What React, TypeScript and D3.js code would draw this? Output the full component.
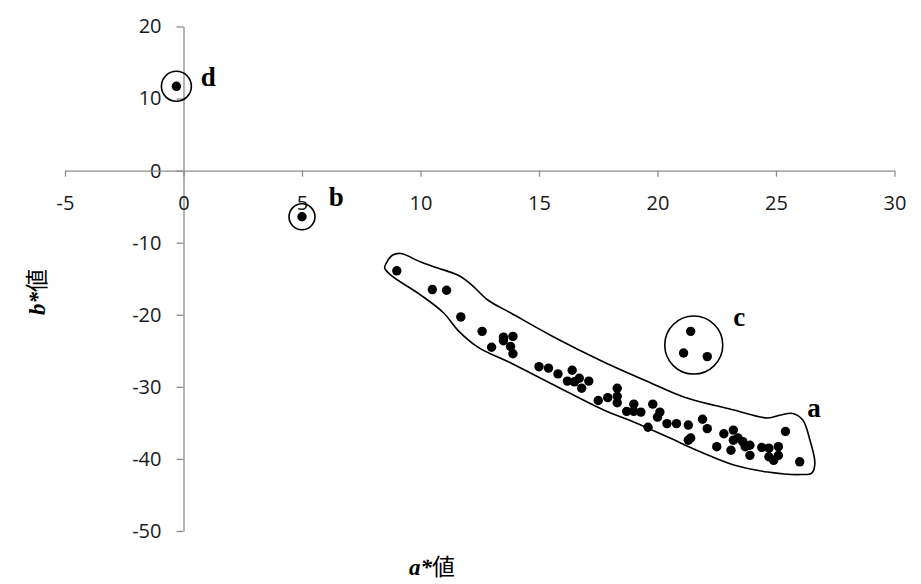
import React, { useEffect, useRef } from 'react';
import * as d3 from 'd3';

// group a: main band of samples
const groupA: [number, number][] = [
  [9.0, -13.9], [10.5, -16.5], [11.1, -16.6], [11.7, -20.3], [12.6, -22.3],
  [13.0, -24.5], [13.5, -23.1], [13.5, -23.6], [13.9, -23.0], [13.8, -24.4],
  [13.9, -25.4], [15.0, -27.2], [15.4, -27.4], [15.8, -28.2], [16.4, -27.7],
  [16.2, -29.2], [16.5, -29.3], [16.7, -28.8], [16.8, -30.2], [17.1, -29.2],
  [17.5, -31.9], [17.9, -31.5], [18.3, -30.2], [18.3, -31.3], [18.3, -32.2],
  [18.7, -33.4], [19.0, -32.4], [19.0, -33.4], [19.3, -33.5], [19.8, -32.4],
  [20.1, -33.5], [20.0, -34.2], [19.6, -35.6], [20.4, -35.1], [20.8, -35.1],
  [21.3, -35.3], [21.3, -37.4], [21.4, -37.1], [21.9, -34.5], [22.1, -35.8],
  [22.8, -36.5], [23.2, -36.0], [22.5, -38.3], [23.1, -38.8], [23.2, -37.4],
  [23.4, -37.1], [23.6, -37.6], [23.7, -38.3], [23.9, -38.1], [23.9, -39.5],
  [24.4, -38.4], [24.7, -38.5], [25.1, -38.3], [24.7, -39.7], [24.9, -40.2],
  [25.1, -39.5], [25.4, -36.2], [26.0, -40.4],
];
const groupB: [number, number][] = [[5.0, -6.4]];
const groupC: [number, number][] = [[21.4, -22.3], [21.1, -25.3], [22.1, -25.8]];
const groupD: [number, number][] = [[-0.3, 11.7]];

const xTicks = [-5, 0, 5, 10, 15, 20, 25, 30];
const yTicks = [20, 10, 0, -10, -20, -30, -40, -50];

// hand-drawn envelope around group a (data units)
const outlineA: [number, number][] = [
  [8.58, -12.68], [8.83, -11.71], [9.17, -11.5], [10.01, -12.68], [10.73, -13.51],
  [11.57, -14.49], [12.12, -15.73], [12.84, -17.95], [13.81, -19.75], [15.62, -23.08],
  [17.73, -26.55], [19.72, -29.46], [21.11, -31.4], [23.22, -33.21], [24.65, -34.32],
  [25.2, -33.9], [25.71, -33.7], [26.13, -34.61], [26.43, -37.38], [26.64, -40.58],
  [26.51, -41.96], [26.05, -42.17], [24.65, -41.82], [23.22, -40.85], [21.83, -39.05],
  [20.43, -36.97], [19.0, -34.88], [17.73, -33.21], [15.79, -30.02], [13.81, -26.7],
  [12.42, -24.48], [11.57, -22.12], [10.98, -19.75], [10.01, -17.26], [8.75, -14.49],
  [8.49, -13.51],
];

// circles around groups b, c, d: centre (data) and radius (px)
const rings = [
  { cx: -0.3, cy: 11.7, r: 15 },
  { cx: 5.0, cy: -6.4, r: 13 },
  { cx: 21.53, cy: -24.2, r: 29 },
];

const groupLabels = [
  { text: 'd', x: 1.05, y: 13.0 },
  { text: 'b', x: 6.45, y: -3.6 },
  { text: 'c', x: 23.45, y: -20.3 },
  { text: 'a', x: 26.6, y: -32.9 },
];

const W = 921;
const H = 584;

const App = () => {
  const ref = useRef<SVGSVGElement>(null);

  useEffect(() => {
    const svg = d3.select(ref.current);
    svg.selectAll('*').remove();

    const x = d3.scaleLinear().domain([-5, 30]).range([65, 894.5]);
    const y = d3.scaleLinear().domain([-50, 20]).range([531, 26.5]);

    svg.append('rect').attr('width', W).attr('height', H).attr('fill', '#fff');

    const axisColor = '#8c8c8c';
    const tickFont = '"Open Sans", "DejaVu Sans", sans-serif';
    const fmt = (d: d3.NumberValue) => String(d);

    // Y axis
    const gy = svg.append('g')
      .attr('transform', `translate(${x(0)},0)`)
      .call(d3.axisLeft(y).tickValues(yTicks).tickFormat(fmt).tickSize(7).tickSizeOuter(0).tickPadding(15));
    gy.select('.domain').attr('stroke', axisColor).attr('stroke-width', 1.3);
    gy.selectAll('.tick line').attr('stroke', axisColor).attr('stroke-width', 1.3);
    gy.selectAll('.tick text')
      .attr('fill', '#1a1a1a')
      .style('font-family', tickFont)
      .style('font-size', '20px');

    // X axis
    const gx = svg.append('g')
      .attr('transform', `translate(0,${y(0)})`)
      .call(d3.axisBottom(x).tickValues(xTicks).tickFormat(fmt).tickSize(6).tickSizeOuter(0));
    gx.select('.domain').attr('stroke', axisColor).attr('stroke-width', 1.3);
    gx.selectAll('.tick line').attr('stroke', axisColor).attr('stroke-width', 1.3);
    gx.selectAll('.tick text')
      .attr('fill', '#1a1a1a')
      .attr('dy', null)
      .attr('y', 39)
      .style('font-family', tickFont)
      .style('font-size', '20px');

    // Outline around group a
    const outline = d3.line<[number, number]>()
      .x(d => x(d[0]))
      .y(d => y(d[1]))
      .curve(d3.curveCatmullRomClosed.alpha(0.5));
    svg.append('path')
      .attr('d', outline(outlineA))
      .attr('fill', 'none')
      .attr('stroke', '#000')
      .attr('stroke-width', 1.6);

    // Circles around b, c, d
    svg.selectAll('.ring')
      .data(rings)
      .enter()
      .append('circle')
      .attr('class', 'ring')
      .attr('cx', d => x(d.cx))
      .attr('cy', d => y(d.cy))
      .attr('r', d => d.r)
      .attr('fill', 'none')
      .attr('stroke', '#000')
      .attr('stroke-width', 1.6);

    // Points
    const allPts = [...groupA, ...groupB, ...groupC, ...groupD];
    svg.selectAll('.pt')
      .data(allPts)
      .enter()
      .append('circle')
      .attr('class', 'pt')
      .attr('cx', d => x(d[0]))
      .attr('cy', d => y(d[1]))
      .attr('r', 4.7)
      .attr('fill', '#000');

    // Group letters
    svg.selectAll('.glabel')
      .data(groupLabels)
      .enter()
      .append('text')
      .attr('class', 'glabel')
      .attr('x', d => x(d.x))
      .attr('y', d => y(d.y))
      .attr('text-anchor', 'middle')
      .attr('dominant-baseline', 'central')
      .style('font-family', '"Liberation Serif", "Times New Roman", serif')
      .style('font-weight', 'bold')
      .style('font-size', '27px')
      .attr('fill', '#000')
      .text(d => d.text);

    // Axis titles
    const xt = svg.append('text')
      .attr('x', 432)
      .attr('y', 575)
      .attr('text-anchor', 'middle')
      .attr('fill', '#000')
      .style('font-size', '23px');
    xt.append('tspan')
      .style('font-family', '"Liberation Serif", serif')
      .style('font-weight', 'bold')
      .style('font-style', 'italic')
      .text('a*');
    xt.append('tspan')
      .style('font-family', '"Noto Sans CJK JP", sans-serif')
      .text('値');

    const yt = svg.append('text')
      .attr('transform', 'translate(45,292) rotate(-90)')
      .attr('text-anchor', 'middle')
      .attr('fill', '#000')
      .style('font-size', '23px');
    yt.append('tspan')
      .style('font-family', '"Liberation Serif", serif')
      .style('font-weight', 'bold')
      .style('font-style', 'italic')
      .text('b*');
    yt.append('tspan')
      .style('font-family', '"Noto Sans CJK JP", sans-serif')
      .text('値');
  }, []);

  return (
    <>
      <style>{'body{margin:0}'}</style>
      <svg ref={ref} width={W} height={H} style={{ display: 'block' }} />
    </>
  );
};

export default App;
